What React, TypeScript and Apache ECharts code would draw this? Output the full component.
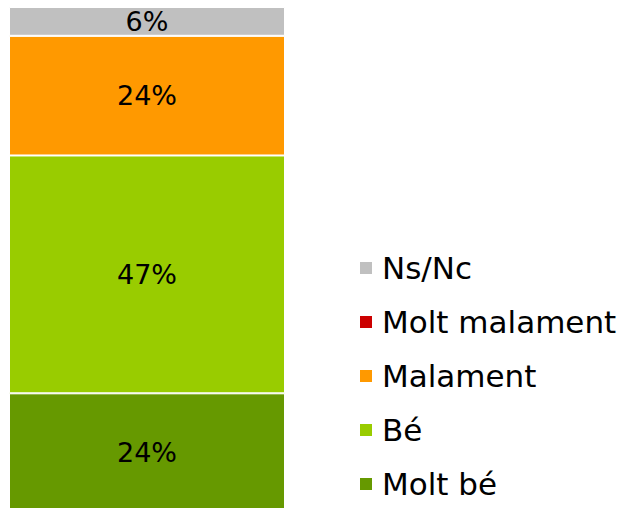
import React, { useEffect, useRef } from "react";
import * as echarts from "echarts";

const categories = ["Total"];
const seriesNames = ["Molt bé", "Bé", "Malament", "Molt malament", "Ns/Nc"];
const seriesValues = [23.5, 47.1, 23.7, 0, 5.7];
const seriesColors = ["#669900", "#99CC00", "#FF9900", "#CC0000", "#C0C0C0"];
const legendOrder = ["Ns/Nc", "Molt malament", "Malament", "Bé", "Molt bé"];

const FONT = "DejaVu Sans";

export default function App() {
  const ref = useRef<HTMLDivElement>(null);
  useEffect(() => {
    if (!ref.current) return;
    const chart = echarts.init(ref.current, undefined, { renderer: "svg" });
    const total = seriesValues.reduce((a, b) => a + b, 0);
    chart.setOption({
      animation: false,
      textStyle: { fontFamily: FONT },
      grid: { left: 9, top: 7, width: 276, height: 505 },
      xAxis: {
        type: "category",
        data: categories,
        show: false,
      },
      yAxis: { type: "value", min: 0, max: total, show: false },
      legend: {
        orient: "vertical",
        left: 358,
        top: 251,
        icon: "rect",
        itemWidth: 14,
        itemHeight: 14,
        itemGap: 20,
        padding: 0,
        data: legendOrder,
        textStyle: {
          fontFamily: FONT,
          fontSize: 31,
          color: "#000",
          lineHeight: 34,
          padding: [0, 0, 0, 4],
        },
      },
      series: seriesNames.map((name, i) => ({
        name,
        type: "bar",
        stack: "total",
        barWidth: 276,
        data: [seriesValues[i]],
        itemStyle: { color: seriesColors[i], borderColor: "#fff", borderWidth: 1 },
        label: {
          show: seriesValues[i] > 0,
          position: "inside",
          formatter: (p: any) => Math.round(p.value) + "%",
          fontFamily: FONT,
          fontSize: 27,
          color: "#000",
        },
      })),
    });
    return () => chart.dispose();
  }, []);
  return (
    <div
      style={{
        position: "absolute",
        left: 0,
        top: 0,
        width: 624,
        height: 508,
        overflow: "hidden",
      }}
    >
      <div ref={ref} style={{ width: 624, height: 520 }} />
    </div>
  );
}
